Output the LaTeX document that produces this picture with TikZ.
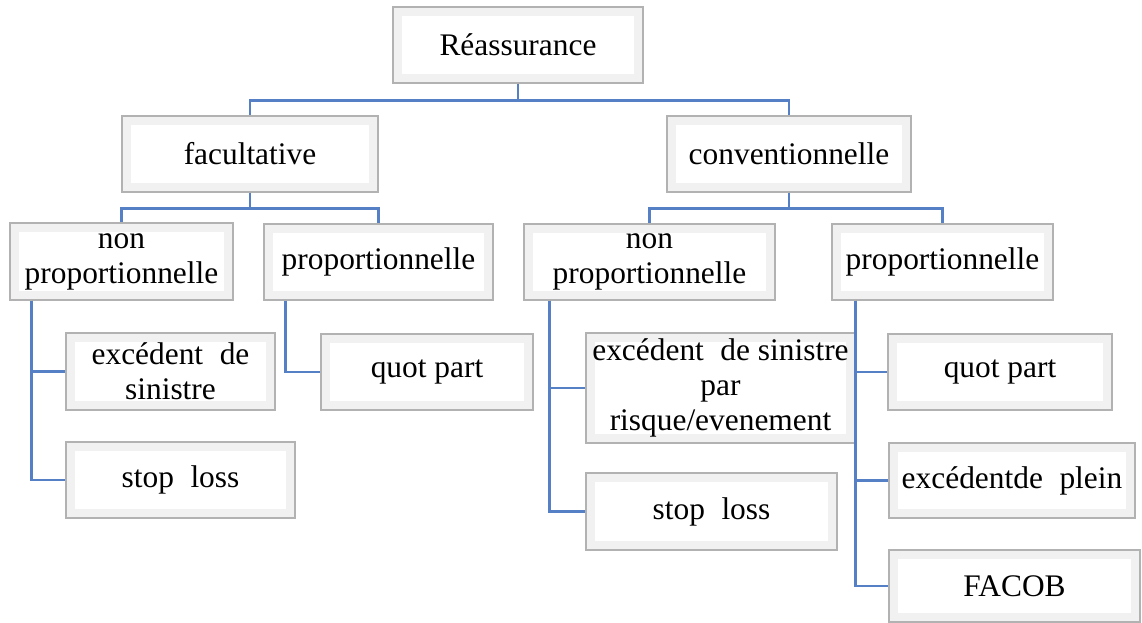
\documentclass[tikz,border=0pt]{standalone}
\usepackage{fontspec}
\setmainfont{Liberation Serif}
\usepackage{tikz}
\definecolor{linkblue}{RGB}{86,128,198}

\begin{document}
\begin{tikzpicture}[x=0.5pt,y=-0.5pt,
                every node/.style={align=center,font=\fontsize{15.7}{17.5}\selectfont},
                box/.style={draw=gray!60,line width=0.6pt,fill=gray!11,inner sep=0pt,
                  path picture={\fill[white] ([shift={(4.5pt,4.5pt)}]path picture bounding box.south west)
                    rectangle ([shift={(-4.5pt,-4.5pt)}]path picture bounding box.north east);}},
                link/.style={draw=linkblue,line width=1.25pt}]
  \useasboundingbox (0,0) rectangle (1142,622);
  % levels
  \node[box,minimum width=125pt,minimum height=38pt]   (top)  at (518,45)    {Réassurance};
  \node[box,minimum width=128pt,minimum height=38pt]   (fac)  at (250,154)   {facultative};
  \node[box,minimum width=122pt,minimum height=38pt]   (conv) at (789,154)   {conventionnelle};
  \node[box,minimum width=111.5pt,minimum height=38.5pt] (fnp) at (121.5,261.5) {non\\proportionnelle};
  \node[box,minimum width=114.5pt,minimum height=38pt] (fp)   at (378.5,262) {proportionnelle};
  \node[box,minimum width=125.5pt,minimum height=38pt] (cnp)  at (649.5,262) {non\\proportionnelle};
  \node[box,minimum width=110.5pt,minimum height=38pt] (cp)   at (942.5,262) {proportionnelle};
  % leaves
  \node[box,minimum width=104.5pt,minimum height=38.5pt] (fexs) at (170.5,371.5) {excédent\; de\\sinistre};
  \node[box,minimum width=114.5pt,minimum height=38pt] (fsl)  at (180.5,480) {stop\; loss};
  \node[box,minimum width=106pt,minimum height=38pt]   (fqp)  at (427,372)   {quot part};
  \node[box,minimum width=134.5pt,minimum height=55pt] (cexs) at (720.5,388) {excédent\; de sinistre\\par\\risque/evenement};
  \node[box,minimum width=125.5pt,minimum height=38.5pt] (csl) at (711.5,511.5) {stop\; loss};
  \node[box,minimum width=112pt,minimum height=38pt]   (cqp)  at (1000,372)  {quot part};
  \node[box,minimum width=123pt,minimum height=37.5pt] (cep)  at (1012,480.5) {excédentde\; plein};
  \node[box,minimum width=125.5pt,minimum height=36pt] (cfa)  at (1014.5,586) {FACOB};
  % connectors
  \draw[link] (top.south) -- ++(0,17) -| (fac.north);
  \draw[link] (top.south) -- ++(0,17) -| (conv.north);
  \draw[link] (fac.south) -- ++(0,16) -| (fnp.north);
  \draw[link] (fac.south) -- ++(0,16) -| (fp.north);
  \draw[link] (conv.south) -- ++(0,16) -| (cnp.north);
  \draw[link] (conv.south) -- ++(0,16) -| (cp.north);
  \draw[link] ([xshift=11pt]fnp.south west) |- (fexs.west);
  \draw[link] ([xshift=11pt]fnp.south west) |- (fsl.west);
  \draw[link] ([xshift=11pt]fp.south west) |- (fqp.west);
  \draw[link] ([xshift=13pt]cnp.south west) |- (cexs.west);
  \draw[link] ([xshift=13pt]cnp.south west) |- (csl.west);
  \draw[link] ([xshift=12pt]cp.south west) |- (cqp.west);
  \draw[link] ([xshift=12pt]cp.south west) |- (cep.west);
  \draw[link] ([xshift=12pt]cp.south west) |- (cfa.west);
\end{tikzpicture}
\end{document}
